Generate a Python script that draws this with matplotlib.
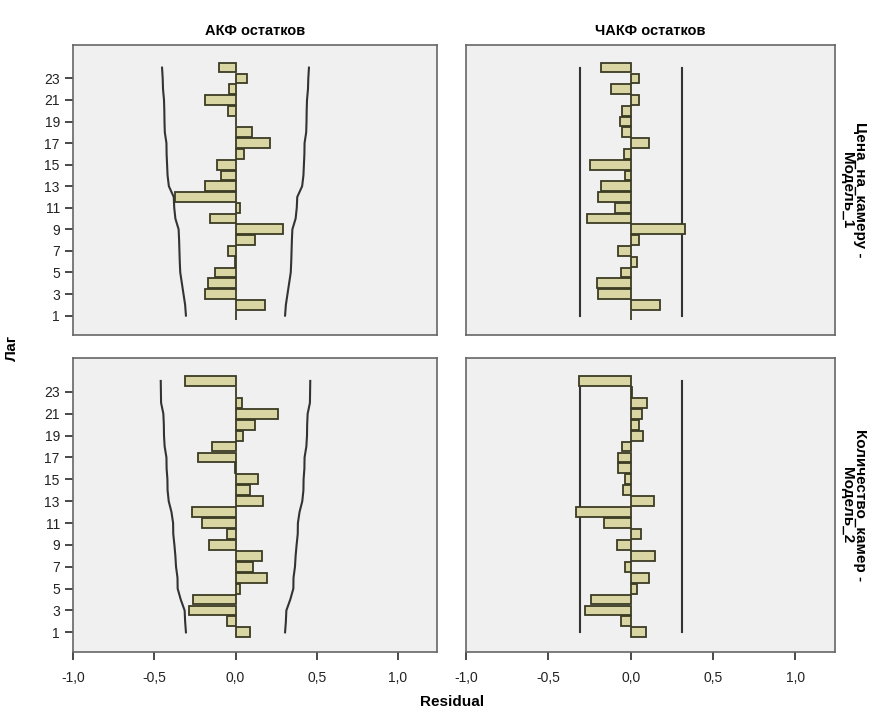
import numpy as np
import matplotlib
matplotlib.use("Agg")
import matplotlib.pyplot as plt
from matplotlib.ticker import FuncFormatter

plt.rcParams['font.family'] = ['Liberation Sans', 'DejaVu Sans']

# -------------------------------
# Данные, лаги 1..24
# -------------------------------
lags = list(range(1, 25))

acf_m1 = [0.003, 0.18, -0.19, -0.17, -0.125, -0.005, -0.045, 0.12, 0.29, -0.16,
          0.03, -0.37, -0.19, -0.09, -0.115, 0.055, 0.215, 0.10, 0.005, -0.045,
          -0.19, -0.04, 0.07, -0.10]
pacf_m1 = [0.003, 0.18, -0.20, -0.205, -0.06, 0.04, -0.08, 0.05, 0.33, -0.265,
           -0.095, -0.20, -0.18, -0.035, -0.245, -0.04, 0.11, -0.055, -0.065, -0.055,
           0.05, -0.12, 0.05, -0.18]
acf_m2 = [0.09, -0.055, -0.285, -0.26, 0.03, 0.195, 0.11, 0.16, -0.165, -0.055,
          -0.205, -0.265, 0.17, 0.09, 0.14, -0.005, -0.23, -0.145, 0.045, 0.12,
          0.26, 0.04, 0.003, -0.31]
pacf_m2 = [0.09, -0.06, -0.28, -0.24, 0.04, 0.11, -0.035, 0.145, -0.085, 0.06,
           -0.16, -0.33, 0.14, -0.045, -0.035, -0.075, -0.075, -0.055, 0.075, 0.05,
           0.07, 0.10, 0.01, -0.315]

# доверительные границы АКФ (верхние; нижние симметричны)
acf_ci_m1 = [0.305, 0.31, 0.32, 0.33, 0.34, 0.343, 0.345, 0.347, 0.35, 0.37,
             0.377, 0.38, 0.41, 0.418, 0.421, 0.424, 0.425, 0.435, 0.437, 0.438,
             0.44, 0.446, 0.448, 0.452]
acf_ci_m2 = [0.305, 0.31, 0.313, 0.337, 0.356, 0.357, 0.366, 0.37, 0.376, 0.383,
             0.384, 0.394, 0.411, 0.418, 0.419, 0.424, 0.425, 0.436, 0.44, 0.441,
             0.444, 0.458, 0.459, 0.46]
pacf_ci = 0.31

col_titles = ["АКФ остатков", "ЧАКФ остатков"]
row_titles = ["Цена_на_камеру -\nМодель_1", "Количество_камер -\nМодель_2"]

# -------------------------------
# Оформление
# -------------------------------
W, H = 872, 711
fig = plt.figure(figsize=(W / 100, H / 100), dpi=100)

def ax_at(x0, y0, x1, y1):
    return fig.add_axes([x0 / W, 1 - y1 / H, (x1 - x0) / W, (y1 - y0) / H])

boxes = [[(73, 45, 437, 335), (466, 45, 835, 335)],
         [(73, 358, 437, 652), (466, 358, 835, 652)]]

panels = [[(acf_m1, acf_ci_m1), (pacf_m1, None)],
          [(acf_m2, acf_ci_m2), (pacf_m2, None)]]

fmt = FuncFormatter(lambda v, p: f"{v:.1f}".replace(".", ","))
bar_fc = "#DAD6A4"
bar_ec = "#3B3B24"
line_c = "#333333"

for r in range(2):
    for c in range(2):
        ax = ax_at(*boxes[r][c])
        vals, ci = panels[r][c]
        ax.set_facecolor("#F0F0F0")
        ax.barh(lags, vals, height=0.9, color=bar_fc, edgecolor=bar_ec, linewidth=1.3, zorder=3)
        if ci is not None:
            ax.plot(ci, lags, color=line_c, lw=1.5, zorder=2)
            ax.plot([-v for v in ci], lags, color=line_c, lw=1.5, zorder=2)
        else:
            ax.plot([pacf_ci, pacf_ci], [lags[0], lags[-1]], color=line_c, lw=1.5, zorder=2)
            ax.plot([-pacf_ci, -pacf_ci], [lags[0], lags[-1]], color=line_c, lw=1.5, zorder=2)
        ax.set_xlim(-1.0, 1.24)
        ax.set_ylim(-0.8, 26.1)
        for s in ax.spines.values():
            s.set_color("#666666")
            s.set_linewidth(1.2)
        ax.set_xticks([-1.0, -0.5, 0.0, 0.5, 1.0])
        ax.xaxis.set_major_formatter(fmt)
        ax.set_yticks(lags[::2])
        ax.tick_params(axis="both", labelsize=10, colors="#3a3a3a", labelcolor="#222222",
                       length=6, width=1.3)
        ax.tick_params(axis="x", pad=8)
        if r == 0:
            ax.tick_params(axis="x", bottom=False, labelbottom=False)
            ax.set_title(col_titles[c], fontsize=10.5, fontweight="bold", pad=7)
        if c == 1:
            ax.tick_params(axis="y", left=False, labelleft=False)
            ax.text(1.05, 0.5, row_titles[r], transform=ax.transAxes, rotation=-90,
                    ha="center", va="center", fontsize=11, fontweight="bold",
                    multialignment="center", linespacing=0.85)

fig.text(12 / W, 1 - 348 / H, "Лаг", rotation=90, ha="center", va="center",
         fontsize=11, fontweight="bold")
fig.text(452 / W, 1 - 702 / H, "Residual", ha="center", va="center",
         fontsize=11, fontweight="bold")

fig.savefig("out.png", dpi=100)
